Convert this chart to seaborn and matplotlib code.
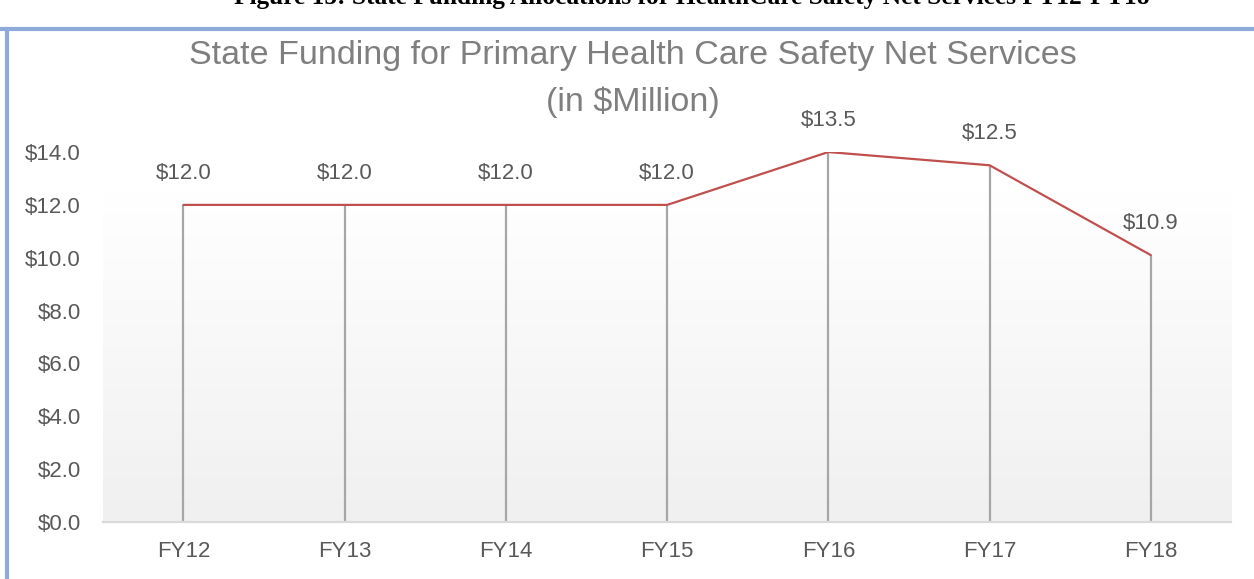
#!/usr/bin/env python3
"""State funding for primary health care safety net services, FY12-FY18."""

import matplotlib.pyplot as plt
from matplotlib.lines import Line2D
import numpy as np
import pandas as pd
import seaborn as sns

fiscal_years = ["FY12", "FY13", "FY14", "FY15", "FY16", "FY17", "FY18"]
funding = [12.0, 12.0, 12.0, 12.0, 14.0, 13.5, 10.1]
funding_labels = ["$12.0", "$12.0", "$12.0", "$12.0", "$13.5", "$12.5", "$10.9"]
y_ticks = [0, 2, 4, 6, 8, 10, 12, 14]

df = pd.DataFrame({"year": fiscal_years, "funding": funding, "label": funding_labels})
df["pos"] = range(len(df))

sns.set_theme(style="white")
plt.rcParams["font.family"] = ["Liberation Sans", "DejaVu Sans"]

TXT = "#595959"
fig = plt.figure(figsize=(12.54, 5.79), dpi=100)
ax = fig.add_axes([0.082, 0.0984, 0.9, 0.639])

# gradient plot area
grad = np.linspace(0, 1, 256).reshape(-1, 1)
ax.imshow(grad, cmap=sns.blend_palette(["#f0f0f0", "#ffffff"], as_cmap=True),
          extent=(-0.5, len(df) - 0.5, 0, 12.5), aspect="auto", origin="lower",
          zorder=0)

# drop lines
ax.vlines(df["pos"], 0, df["funding"], color="#a6a6a6", lw=1.6, zorder=1)
sns.lineplot(data=df, x="pos", y="funding", color="#c0504d", lw=1.6, ax=ax, zorder=2)

for _, r in df.iterrows():
    ax.annotate(r["label"], (r["pos"], r["funding"]), xytext=(0, 15),
                textcoords="offset points", ha="center", va="bottom",
                fontsize=16, color=TXT)

ax.set_xlim(-0.5, len(df) - 0.5)
ax.set_ylim(0, 14)
ax.set_xticks(df["pos"], fiscal_years)
ax.set_yticks(y_ticks, [f"${v:.1f}" for v in y_ticks])
ax.tick_params(axis="both", length=0, labelsize=16, colors=TXT)
ax.tick_params(axis="x", pad=14)
ax.tick_params(axis="y", pad=16)
ax.set_xlabel("")
ax.set_ylabel("")
for s in ["top", "right", "left"]:
    ax.spines[s].set_visible(False)
ax.spines["bottom"].set_color("#d9d9d9")
ax.spines["bottom"].set_linewidth(1.6)

fig.text(0.505, 0.905, "State Funding for Primary Health Care Safety Net Services",
         ha="center", va="center", fontsize=24.5, color="#7f7f7f")
fig.text(0.505, 0.823, "(in $Million)", ha="center", va="center",
         fontsize=24.5, color="#7f7f7f")

# clipped document caption and frame
fig.text(0.552, 1.004, "Figure 15: State Funding Allocations for HealthCare Safety Net Services FY12-FY18",
         ha="center", va="center", fontsize=18.3, fontweight="bold",
         family=["Liberation Serif", "DejaVu Serif"], color="black")
fig.add_artist(Line2D([0, 1], [0.95, 0.95], color="#8eaadb", lw=3))
fig.add_artist(Line2D([0.0056, 0.0056], [0, 0.95], color="#8eaadb", lw=3))

fig.savefig("out.png", dpi=100)
